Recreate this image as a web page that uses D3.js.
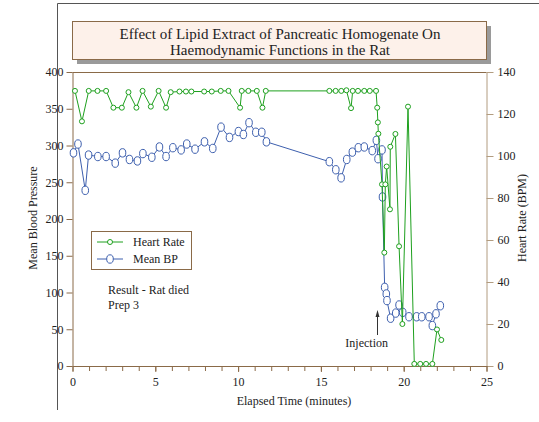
<!DOCTYPE html>
<html>
<head>
<meta charset="utf-8">
<script src="https://cdn.jsdelivr.net/npm/d3@7"></script>
<style>
  body { margin: 0; background: #fff; }
  text { font-family: "Liberation Serif", "Times New Roman", serif; fill: #222; }
</style>
</head>
<body>
<script>
"use strict";

// heart rate series (minutes, BPM)
const hrTime = [0.15, 0.57, 0.98, 1.51, 2.03, 2.47, 2.98, 3.38, 3.86, 4.23, 4.73, 5.2, 5.65, 5.93,
  6.46, 6.85, 7.18, 7.95, 8.41, 8.95, 9.42, 10.12, 10.22, 10.62, 11.13, 11.47, 11.67,
  15.51, 15.89, 16.23, 16.54, 16.82, 16.92, 17.24, 17.62, 17.95, 18.33, 18.40, 18.44, 18.47,
  18.69, 18.83, 18.89, 18.97, 19.17, 19.19, 19.5, 19.72, 19.92, 20.26, 20.64, 21.0, 21.35,
  21.73, 22.01, 22.27];
const hrValues = [131, 116.5, 131, 131, 131, 123, 123, 130.4, 123, 131, 123.5, 131, 123, 130.4,
  130.7, 130.7, 130.7, 130.7, 130.7, 131, 131, 123, 131, 131, 131, 123, 131,
  131, 131, 131, 131.3, 122.8, 131, 131, 131, 131, 131, 123, 116, 110.6,
  86.5, 54, 86.5, 95, 74.6, 104.4, 110.5, 57, 20, 123.5, 1, 1, 1,
  1, 17.4, 12.4];

// mean blood pressure series (minutes, mmHg)
const bpTime = [0.06, 0.33, 0.77, 0.97, 1.53, 2.03, 2.58, 3.02, 3.44, 3.92, 4.25, 4.79, 5.25, 5.65,
  6.06, 6.56, 6.9, 7.4, 7.97, 8.47, 8.97, 9.48, 10.02, 10.32, 10.66, 11.07, 11.43, 11.71,
  15.51, 15.9, 16.22, 16.56, 16.9, 17.26, 17.62, 18.1, 18.35, 18.45, 18.69, 18.72,
  18.85, 18.95, 18.99, 19.21, 19.52, 19.72, 19.94, 20.32, 20.78, 21.09, 21.53, 21.73,
  21.95, 22.21];
const bpValues = [290, 302, 239, 287, 285, 285, 276, 290, 281, 279, 289, 284, 298, 285,
  297, 294, 302, 295, 305, 296, 325, 311, 319, 315, 331, 318, 318, 305,
  278, 267, 256, 281, 291, 297, 298, 293, 307, 282, 294, 230,
  107, 98, 89, 65, 72, 83, 73, 67, 67, 67, 67, 55,
  71, 82];

const xTicks = [0, 5, 10, 15, 20, 25];
const bpTicks = [0, 50, 100, 150, 200, 250, 300, 350, 400];
const hrTicks = [0, 20, 40, 60, 80, 100, 120, 140];

const titleLines = ["Effect of Lipid Extract of Pancreatic Homogenate On", "Haemodynamic Functions in the Rat"];
const notes = ["Result - Rat died", "Prep 3"];

const w = 539;
const h = 422;
const plotLeft = 72.5, plotRight = 486.5, plotTop = 72, plotBottom = 366;

const green = "#1ea01e";
const blue = "#3d5fae";
const brown = "#8a6a48";
const tan = "#b29c80";
const serif = "Liberation Serif, Times New Roman, serif";

const svg = d3.select("body").append("svg").attr("width", w).attr("height", h);

// outer frame (only left and top visible)
svg.append("path").attr("d", "M57.5,410 V3.5 H539").attr("fill", "none").attr("stroke", "#555").attr("stroke-width", 1);

const xScale = d3.scaleLinear().domain([0, 25]).range([plotLeft, plotRight]);
const yBP = d3.scaleLinear().domain([0, 400]).range([plotBottom, plotTop]);
const yHR = d3.scaleLinear().domain([0, 140]).range([plotBottom, plotTop]);

// title box with shadow
svg.append("rect").attr("x", 77).attr("y", 26).attr("width", 414).attr("height", 38).attr("fill", "#9a9a9a");
svg.append("rect").attr("x", 72.5).attr("y", 21.5).attr("width", 414).attr("height", 38)
  .attr("fill", "#fdf1ea").attr("stroke", brown).attr("stroke-width", 1);
svg.selectAll(".title").data(titleLines).enter().append("text")
  .attr("class", "title")
  .attr("x", 280).attr("y", (d, i) => 38.5 + i * 16)
  .attr("text-anchor", "middle").style("font-size", "15px").text((d) => d);

// top border of the plot
svg.append("line").attr("x1", plotLeft).attr("x2", plotRight).attr("y1", plotTop + 0.5).attr("y2", plotTop + 0.5)
  .attr("stroke", brown);

// axes
const styleAxis = (g, color) => {
  g.attr("font-family", serif).attr("font-size", 12);
  g.select(".domain").attr("stroke", color);
  g.selectAll(".tick line").attr("stroke", color);
  g.selectAll(".tick text").attr("fill", "#222");
};

svg.append("g").attr("transform", `translate(${plotLeft},0)`)
  .call(d3.axisLeft(yBP).tickValues(bpTicks).tickSize(6).tickSizeOuter(0).tickPadding(3))
  .call((g) => styleAxis(g, brown));

svg.append("g").attr("transform", `translate(${plotRight},0)`)
  .call(d3.axisRight(yHR).tickValues(hrTicks).tickSize(7).tickSizeOuter(0).tickPadding(4))
  .call((g) => styleAxis(g, tan));

svg.append("g").attr("transform", `translate(0,${plotBottom})`)
  .call(d3.axisBottom(xScale).tickValues(d3.range(0, 26)).tickFormat("").tickSize(5).tickSizeOuter(0))
  .call((g) => styleAxis(g, brown));
svg.append("g").attr("transform", `translate(0,${plotBottom})`)
  .call(d3.axisBottom(xScale).tickValues(xTicks).tickSize(6).tickSizeOuter(0).tickPadding(5))
  .call((g) => styleAxis(g, brown));

// axis titles
svg.append("text").attr("transform", `translate(37,218) rotate(-90)`).attr("text-anchor", "middle")
  .style("font-size", "12px").text("Mean Blood Pressure");
svg.append("text").attr("transform", `translate(526,218) rotate(-90)`).attr("text-anchor", "middle")
  .style("font-size", "12px").text("Heart Rate (BPM)");
svg.append("text").attr("x", 294).attr("y", 405).attr("text-anchor", "middle")
  .style("font-size", "12px").text("Elapsed Time (minutes)");

// series
const hrData = hrTime.map((t, i) => ({ t: t, v: hrValues[i] }));
const bpData = bpTime.map((t, i) => ({ t: t, v: bpValues[i] }));

const hrLine = d3.line().x((d) => xScale(d.t)).y((d) => yHR(d.v));
const bpLine = d3.line().x((d) => xScale(d.t)).y((d) => yBP(d.v));

svg.append("path").datum(bpData).attr("d", bpLine).attr("fill", "none").attr("stroke", blue).attr("stroke-width", 1);
svg.selectAll(".bp").data(bpData).enter().append("ellipse")
  .attr("class", "bp")
  .attr("cx", (d) => xScale(d.t)).attr("cy", (d) => yBP(d.v))
  .attr("rx", 3.3).attr("ry", 4.2)
  .attr("fill", "#fff").attr("stroke", blue).attr("stroke-width", 1);

svg.append("path").datum(hrData).attr("d", hrLine).attr("fill", "none").attr("stroke", green).attr("stroke-width", 1);
svg.selectAll(".hr").data(hrData).enter().append("circle")
  .attr("class", "hr")
  .attr("cx", (d) => xScale(d.t)).attr("cy", (d) => yHR(d.v))
  .attr("r", 2.5)
  .attr("fill", "#fff").attr("stroke", green).attr("stroke-width", 1);

// legend
const legend = svg.append("g");
legend.append("rect").attr("x", 91.5).attr("y", 231.5).attr("width", 100).attr("height", 38)
  .attr("fill", "#fff").attr("stroke", brown);
const legendItems = [
  { name: "Heart Rate", color: green, y: 242 },
  { name: "Mean BP", color: blue, y: 259 }
];
legendItems.forEach((d, i) => {
  legend.append("line").attr("x1", 97).attr("x2", 123).attr("y1", d.y).attr("y2", d.y).attr("stroke", d.color);
  if (i === 0) {
    legend.append("circle").attr("cx", 110).attr("cy", d.y).attr("r", 2.5).attr("fill", "#fff").attr("stroke", d.color);
  } else {
    legend.append("ellipse").attr("cx", 110).attr("cy", d.y).attr("rx", 3.3).attr("ry", 4.2).attr("fill", "#fff").attr("stroke", d.color);
  }
  legend.append("text").attr("x", 133).attr("y", d.y + 4).style("font-size", "12px").text(d.name);
});

// notes
svg.selectAll(".note").data(notes).enter().append("text")
  .attr("class", "note")
  .attr("x", 108).attr("y", (d, i) => 294 + i * 15)
  .style("font-size", "12px").text((d) => d);

// injection arrow
svg.append("line").attr("x1", 377.5).attr("x2", 377.5).attr("y1", 335).attr("y2", 314)
  .attr("stroke", "#333").attr("stroke-width", 1);
svg.append("path").attr("d", "M377.5,310 L375.5,317 L379.5,317 Z").attr("fill", "#333");
svg.append("text").attr("x", 388).attr("y", 347).attr("text-anchor", "end")
  .style("font-size", "12px").text("Injection");
</script>
</body>
</html>
